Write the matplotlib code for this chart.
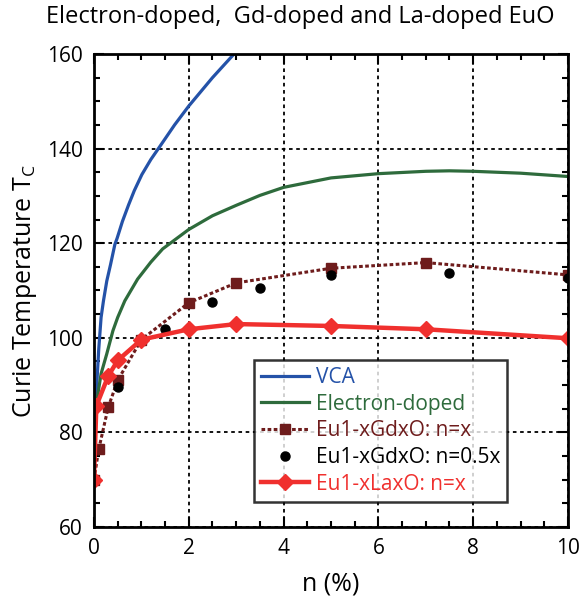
import matplotlib.pyplot as plt
from matplotlib.ticker import MultipleLocator

plt.rcParams['font.family'] = ['Open Sans', 'DejaVu Sans']

# VCA curve
vca_n = [0.0, 0.01, 0.03, 0.06, 0.1, 0.15, 0.2, 0.27, 0.35, 0.44, 0.49, 0.6, 0.73, 0.85, 1.01,
         1.2, 1.4, 1.7, 2.0, 2.5, 3.0]
vca_tc = [70.0, 78.0, 85.0, 90.3, 97.5, 104.3, 107.8, 112.0, 115.5, 119.7, 121.1, 124.6, 128.1,
          131.1, 134.5, 137.7, 140.6, 145.0, 149.0, 155.0, 160.5]

# electron-doped curve
el_n = [0.0, 0.02, 0.05, 0.15, 0.27, 0.4, 0.5, 0.65, 0.92, 1.2, 1.45, 2.0, 2.5, 3.0, 3.5, 4.0,
        5.0, 6.0, 7.0, 7.5, 8.0, 9.0, 10.0]
el_tc = [70.0, 80.0, 86.0, 92.4, 96.6, 101.5, 104.3, 107.8, 112.4, 116.0, 118.8, 122.9, 125.8,
         128.0, 130.1, 131.8, 133.8, 134.7, 135.2, 135.3, 135.2, 134.8, 134.1]

# Eu1-xGdxO, n = x
gd_n = [0.0, 0.1, 0.3, 0.5, 1.0, 2.0, 3.0, 5.0, 7.0, 10.0]
gd_tc = [70.0, 76.4, 85.3, 91.0, 99.6, 107.4, 111.6, 114.7, 115.9, 113.3]

# Eu1-xGdxO, n = 0.5x
gd2_n = [0.5, 1.5, 2.5, 3.5, 5.0, 7.5, 10.0]
gd2_tc = [89.5, 101.8, 107.6, 110.5, 113.3, 113.7, 112.6]

# Eu1-xLaxO, n = x
la_n = [0.0, 0.05, 0.3, 0.5, 1.0, 2.0, 3.0, 5.0, 7.0, 10.0]
la_tc = [70.0, 85.6, 91.9, 95.2, 99.6, 101.8, 102.9, 102.5, 101.8, 99.9]

fig = plt.figure(figsize=(5.79, 6.06), dpi=100)
ax = fig.add_axes([0.1623, 0.1304, 0.8187, 0.7805])

ax.plot(vca_n, vca_tc, color='#2452a8', lw=2.3, label='VCA')
ax.plot(el_n, el_tc, color='#2e6b3c', lw=2.3, label='Electron-doped')
ax.plot(gd_n, gd_tc, color='#6e1c1c', lw=2.2, ls=(0, (1.2, 0.8)), marker='s', ms=7,
        label='Eu1-xGdxO: n=x')
ax.plot(gd2_n, gd2_tc, 'o', color='black', ms=6.5, label='Eu1-xGdxO: n=0.5x')
ax.plot(la_n, la_tc, color='#f0302e', lw=3.2, marker='D', ms=8.5, label='Eu1-xLaxO: n=x')

ax.set_xlim(0, 10)
ax.set_ylim(60, 160)
ax.xaxis.set_major_locator(MultipleLocator(2))
ax.xaxis.set_minor_locator(MultipleLocator(0.5))
ax.yaxis.set_major_locator(MultipleLocator(20))
ax.yaxis.set_minor_locator(MultipleLocator(5))
ax.tick_params(which='both', direction='in', top=True, right=True, width=1.5, labelsize=15)
ax.tick_params(which='major', length=7, pad=8)
ax.tick_params(which='minor', length=4)
ax.grid(True, which='major', color='black', ls=(0, (2, 2)), lw=1.3)
for s in ax.spines.values():
    s.set_linewidth(2)

ax.set_xlabel('n (%)', fontsize=18, labelpad=9)
ax.set_ylabel('Curie Temperature T$_\\mathregular{C}$', fontsize=18, labelpad=6)
fig.text(0.519, 0.972, 'Electron-doped,  Gd-doped and La-doped EuO', ha='center', va='center',
         fontsize=17)

leg = ax.legend(loc='lower right', bbox_to_anchor=(0.872, 0.053), fontsize=15, frameon=True,
                fancybox=False, edgecolor='black', handlelength=2.3, borderpad=0.35,
                labelspacing=0.27, handletextpad=0.3, borderaxespad=0)
leg.get_frame().set_linewidth(1.8)
for t, c in zip(leg.get_texts(), ['#2452a8', '#2e6b3c', '#6e1c1c', 'black', '#f0302e']):
    t.set_color(c)

fig.savefig('out.png', dpi=100)
